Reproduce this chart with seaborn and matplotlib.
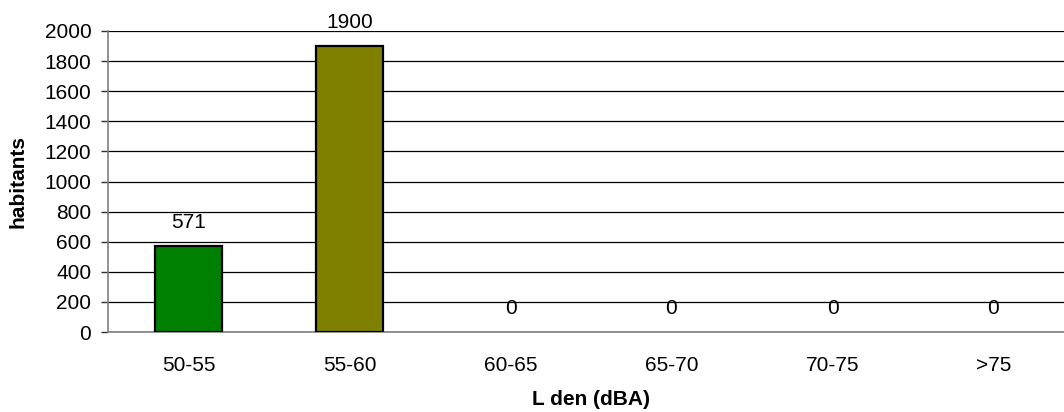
import matplotlib
matplotlib.use("Agg")
import matplotlib.pyplot as plt
import seaborn as sns
import pandas as pd

# données
categories = ['50-55', '55-60', '60-65', '65-70', '70-75', '>75']
habitants = [571, 1900, 0, 0, 0, 0]
bar_colors = ['#008000', '#808000', '#008000', '#008000', '#008000', '#008000']
y_ticks = list(range(0, 2001, 200))

sns.set_style('white')
plt.rcParams['font.family'] = ['Liberation Sans', 'DejaVu Sans']
plt.rcParams['text.color'] = 'black'
plt.rcParams['axes.labelcolor'] = 'black'
plt.rcParams['xtick.color'] = 'black'
plt.rcParams['ytick.color'] = 'black'

df = pd.DataFrame({'classe': categories, 'habitants': habitants})

fig = plt.figure(figsize=(10.64, 4.12), dpi=100)
ax = fig.add_axes([108 / 1064, 80 / 412, 966 / 1064, 301 / 412])

sns.barplot(data=df, x='classe', y='habitants', hue='classe', palette=bar_colors,
            width=0.41, edgecolor='black', linewidth=1.6, saturation=1,
            legend=False, ax=ax, zorder=3)

# pas de contour pour les barres vides
for p in ax.patches:
    if p.get_height() == 0:
        p.set_linewidth(0)

for i, v in enumerate(habitants):
    ax.annotate(str(v), (i, v), xytext=(0, 17), textcoords='offset points',
                ha='center', va='center', fontsize=15)

ax.set_xlim(-0.5, len(categories) - 0.5)
ax.set_ylim(0, 2000)
ax.set_yticks(y_ticks)
ax.yaxis.grid(True, color='black', linewidth=0.9)
ax.set_axisbelow(True)

ax.set_xticks([i - 0.5 for i in range(len(categories) + 1)], minor=True)
ax.tick_params(axis='x', which='major', length=0, pad=17, labelsize=15)
ax.tick_params(axis='x', which='minor', length=5, width=1, color='#303030')
ax.tick_params(axis='y', length=5, width=1, color='#303030', pad=7, labelsize=15, left=True)

for side in ['top', 'right']:
    ax.spines[side].set_visible(False)
for side in ['left', 'bottom']:
    ax.spines[side].set_color('#808080')
    ax.spines[side].set_linewidth(1.2)

ax.set_xlabel('L den (dBA)', fontsize=15, fontweight='bold', labelpad=11)
ax.set_ylabel('habitants', fontsize=15, fontweight='bold', labelpad=12)

fig.savefig('out.png', dpi=100)
